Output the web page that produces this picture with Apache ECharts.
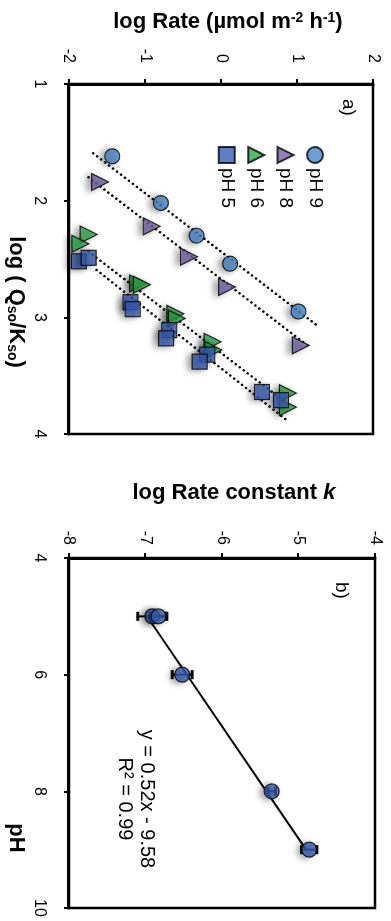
<!DOCTYPE html>
<html>
<head>
<meta charset="utf-8">
<script src="https://cdn.jsdelivr.net/npm/echarts/dist/echarts.min.js"></script>
<style>
  html, body { margin: 0; padding: 0; width: 391px; height: 921px; overflow: hidden; background: #fff; }
  /* the two-panel figure is laid out landscape and turned a quarter turn clockwise */
  #chart { position: absolute; left: 0; top: 0; width: 921px; height: 391px;
           transform-origin: 0 0; transform: translate(391px, 0) rotate(90deg); }
</style>
</head>
<body>
<div id="chart"></div>
<script>
// ---------- Panel a: log rate vs log(Qso/Kso) ----------
const ph9LogQK   = [1.62, 2.02, 2.30, 2.54, 2.95];
const ph9LogRate = [-1.43, -0.79, -0.32, 0.12, 1.02];

const ph8LogQK   = [1.84, 2.22, 2.48, 2.74, 3.24];
const ph8LogRate = [-1.59, -0.91, -0.42, 0.08, 1.05];

const ph6LogQK   = [2.29, 2.37, 2.71, 2.72, 2.97, 3.01, 3.21, 3.28, 3.65, 3.77];
const ph6LogRate = [-1.74, -1.85, -1.09, -1.04, -0.60, -0.58, -0.11, -0.10, 0.88, 0.88];

const ph5LogQK   = [2.52, 2.49, 2.87, 2.93, 3.11, 3.18, 3.32, 3.38, 3.64, 3.71];
const ph5LogRate = [-1.87, -1.74, -1.19, -1.16, -0.68, -0.72, -0.18, -0.28, 0.54, 0.79];

// dotted trend lines (end points)
const ph9TrendQK = [1.594, 3.08],  ph9TrendRate = [-1.68, 1.285];
const ph8TrendQK = [1.80, 3.251],  ph8TrendRate = [-1.742, 1.158];
const ph6TrendQK = [2.437, 3.765], ph6TrendRate = [-1.742, 0.924];
const ph5TrendQK = [2.594, 3.879], ph5TrendRate = [-1.636, 0.861];

const rateTicks = [-2, -1, 0, 1, 2];
const qkTicks = [1, 2, 3, 4];

// ---------- Panel b: log k vs pH ----------
const kPH   = [5, 5, 6, 8, 9];
const kLogK = [-6.91, -6.83, -6.52, -5.35, -4.86];
const kErr  = [0.19, 0.10, 0.13, 0.05, 0.10];
const fitSlope = 0.52, fitIntercept = -9.58, fitPH = [5, 9];
const kTicks = [-8, -7, -6, -5, -4];
const phTicks = [4, 6, 8, 10];

const FONT = "'Liberation Sans', Arial, sans-serif";
const pairs = (xs, ys) => xs.map((x, i) => [x, ys[i]]);

const markerShadow = { shadowColor: 'rgba(0,0,0,0.45)', shadowBlur: 6, shadowOffsetX: 1, shadowOffsetY: 4 };

function axisCommon(min, max, interval, margin) {
  return {
    type: 'value', min, max, interval,
    axisLine: { show: true, onZero: false, lineStyle: { color: '#000', width: 3 } },
    axisTick: { show: true, inside: false, length: 5, lineStyle: { color: '#000', width: 2 } },
    axisLabel: { color: '#000', fontSize: 16, fontFamily: FONT, margin },
    splitLine: { show: false }
  };
}

function trend(xs, ys) {
  return {
    type: 'line', xAxisIndex: 0, yAxisIndex: 0, data: pairs(xs, ys), symbol: 'none',
    silent: true, z: 1,
    lineStyle: { color: '#000', width: 2.6, type: [0.01, 5], cap: 'round' }
  };
}

function scatterA(name, xs, ys, symbol, size, color) {
  return {
    name, type: 'scatter', xAxisIndex: 0, yAxisIndex: 0, data: pairs(xs, ys),
    symbol, symbolSize: size, z: 3,
    itemStyle: Object.assign({ color, borderColor: '#000', borderWidth: 1.2 }, markerShadow)
  };
}

const errData = kPH.map((p, i) => [p, kLogK[i] - kErr[i], kLogK[i] + kErr[i]]);
const fitData = fitPH.map(p => [p, fitSlope * p + fitIntercept]);

const chart = echarts.init(document.getElementById('chart'), null, { renderer: 'canvas' });

chart.setOption({
  animation: false,
  backgroundColor: '#fff',
  textStyle: { fontFamily: FONT },
  grid: [
    { left: 84, width: 350, top: 18, bottom: 58, show: true, borderColor: '#000', borderWidth: 2.5 },
    { left: 558, width: 350, top: 16, bottom: 59, show: true, borderColor: '#000', borderWidth: 2.5 }
  ],
  xAxis: [
    Object.assign(axisCommon(qkTicks[0], qkTicks[qkTicks.length - 1], 1, 21), {
      gridIndex: 0,
      name: 'log ( Q{sub|so}/K{sub|so})', nameLocation: 'middle', nameGap: 32,
      nameTextStyle: {
        color: '#000', fontSize: 22, fontWeight: 'bold', fontFamily: FONT, padding: [0, 0, 0, 86],
        rich: { sub: { fontSize: 14, fontWeight: 'bold', fontFamily: FONT, verticalAlign: 'bottom', padding: [8, 0, 0, 0] } }
      }
    }),
    Object.assign(axisCommon(phTicks[0], phTicks[phTicks.length - 1], 2, 21), {
      gridIndex: 1,
      name: 'pH', nameLocation: 'middle', nameGap: 34,
      nameTextStyle: { color: '#000', fontSize: 22, fontWeight: 'bold', fontFamily: FONT, padding: [0, 0, 0, 210] }
    })
  ],
  yAxis: [
    Object.assign(axisCommon(rateTicks[0], rateTicks[rateTicks.length - 1], 1, 21), {
      gridIndex: 0,
      name: 'log Rate (µmol m{sup|-2} h{sup|-1})', nameLocation: 'middle', nameGap: 51,
      nameTextStyle: {
        color: '#000', fontSize: 22, fontWeight: 'bold', fontFamily: FONT, padding: [0, 0, 0, 14],
        rich: { sup: { fontSize: 14, fontWeight: 'bold', fontFamily: FONT, verticalAlign: 'top', padding: [0, 0, 8, 0] } }
      }
    }),
    Object.assign(axisCommon(kTicks[0], kTicks[kTicks.length - 1], 1, 13), {
      gridIndex: 1,
      name: 'log Rate constant {it|k}', nameLocation: 'middle', nameGap: 54,
      nameTextStyle: {
        color: '#000', fontSize: 22, fontWeight: 'bold', fontFamily: FONT, padding: [0, 0, 0, 24],
        rich: { it: { fontSize: 22, fontWeight: 'bold', fontStyle: 'italic', fontFamily: FONT } }
      }
    })
  ],
  legend: {
    orient: 'vertical', left: 141, top: 61,
    itemWidth: 16, itemHeight: 16, itemGap: 9.4,
    data: ['pH 9', 'pH 8', 'pH 6', 'pH 5'],
    textStyle: { color: '#000', fontSize: 19, fontFamily: FONT, lineHeight: 20 },
    itemStyle: { shadowBlur: 0, shadowOffsetX: 0, shadowOffsetY: 0, shadowColor: 'transparent' }
  },
  graphic: [
    { type: 'text', left: 99, top: 33, style: { text: 'a)', fontSize: 19, fontFamily: FONT, fill: '#000' } },
    { type: 'text', left: 582, top: 40, style: { text: 'b)', fontSize: 19, fontFamily: FONT, fill: '#000' } },
    { type: 'text', x: 799, y: 255,
      style: { text: 'y = 0.52x - 9.58\nR² = 0.99', fontSize: 20, lineHeight: 22, fontFamily: FONT, fill: '#000',
               align: 'center', verticalAlign: 'middle' } }
  ],
  series: [
    trend(ph9TrendQK, ph9TrendRate),
    trend(ph8TrendQK, ph8TrendRate),
    trend(ph6TrendQK, ph6TrendRate),
    trend(ph5TrendQK, ph5TrendRate),
    scatterA('pH 9', ph9LogQK, ph9LogRate, 'circle', 15, '#4a86c8'),
    scatterA('pH 8', ph8LogQK, ph8LogRate, 'triangle', [17, 17], '#7562a8'),
    scatterA('pH 6', ph6LogQK, ph6LogRate, 'triangle', [17, 17], '#2ea84a'),
    scatterA('pH 5', ph5LogQK, ph5LogRate, 'rect', 15, '#3a5cb3'),
    {
      type: 'line', xAxisIndex: 1, yAxisIndex: 1, data: fitData, symbol: 'none', silent: true, z: 1,
      lineStyle: { color: '#000', width: 2 }
    },
    {
      type: 'custom', xAxisIndex: 1, yAxisIndex: 1, data: errData, z: 2, silent: true,
      renderItem(params, api) {
        const p = api.value(0);
        const lo = api.coord([p, api.value(1)]);
        const hi = api.coord([p, api.value(2)]);
        const w = 4.5;
        return {
          type: 'group',
          children: [
            { type: 'line', shape: { x1: lo[0], y1: lo[1], x2: hi[0], y2: hi[1] }, style: { stroke: '#000', lineWidth: 2 } },
            { type: 'line', shape: { x1: lo[0] - w, y1: lo[1], x2: lo[0] + w, y2: lo[1] }, style: { stroke: '#000', lineWidth: 3 } },
            { type: 'line', shape: { x1: hi[0] - w, y1: hi[1], x2: hi[0] + w, y2: hi[1] }, style: { stroke: '#000', lineWidth: 3 } }
          ]
        };
      }
    },
    {
      type: 'scatter', xAxisIndex: 1, yAxisIndex: 1, data: pairs(kPH, kLogK),
      symbol: 'circle', symbolSize: 15, z: 3,
      itemStyle: Object.assign({ color: '#3a5cb3', borderColor: '#000', borderWidth: 1.2 }, markerShadow)
    }
  ]
});
</script>
</body>
</html>
